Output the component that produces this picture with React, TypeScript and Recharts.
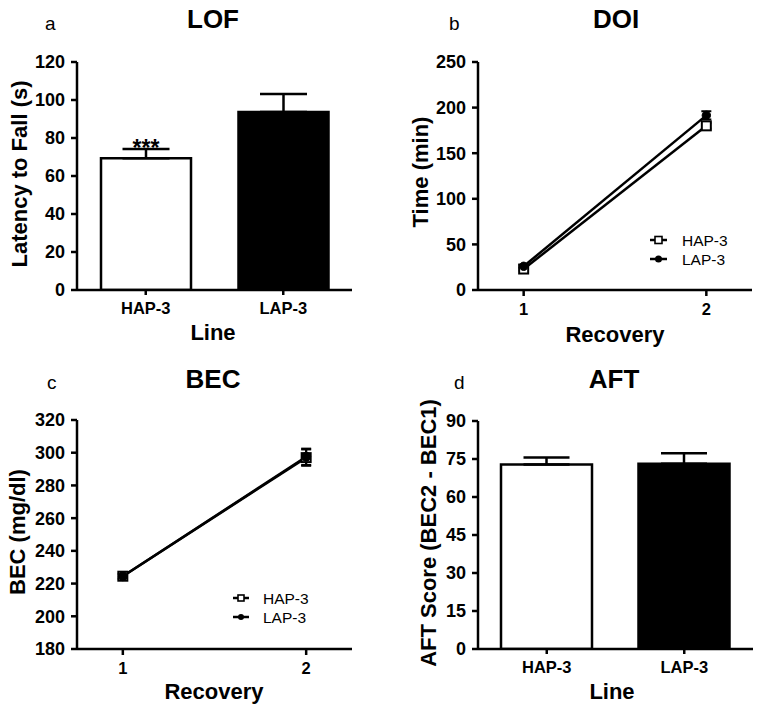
import React from 'react';
import {
  BarChart,
  Bar,
  Cell,
  XAxis,
  YAxis,
  ErrorBar,
  LabelList,
  LineChart,
  Line,
  Legend,
} from 'recharts';

// ---------- data ----------
const lineNames = ['HAP-3', 'LAP-3'];
const seriesNames = ['HAP-3', 'LAP-3'];

const lofMean = [69.3, 93.7];
const lofSem = [4.9, 9.5];
const lofSig = ['***', ''];
const lofTicks = [0, 20, 40, 60, 80, 100, 120];

const aftMean = [72.8, 73.1];
const aftSem = [2.8, 4.2];
const aftTicks = [0, 15, 30, 45, 60, 75, 90];

const recovery = [1, 2];

const doiHap = [23, 180];
const doiHapSem = [1.5, 3];
const doiLap = [26, 191.5];
const doiLapSem = [1.5, 4.5];
const doiTicks = [0, 50, 100, 150, 200, 250];

const becHap = [224.5, 297];
const becHapSem = [1.5, 5];
const becLap = [224.5, 297.5];
const becLapSem = [1.5, 5];
const becTicks = [180, 200, 220, 240, 260, 280, 300, 320];

// ---------- styling ----------
const FONT = '"Liberation Sans", Arial, Helvetica, sans-serif';
const AXIS_W = 2.5;
const barFills = ['#ffffff', '#000000'];

const yTickStyle = { fill: '#000', fontSize: 18, fontWeight: 'bold' as const, fontFamily: FONT };
const xTickStyle = { fill: '#000', fontSize: 16.5, fontWeight: 'bold' as const, fontFamily: FONT };
const axisLineStyle = { stroke: '#000', strokeWidth: AXIS_W };

const lofData = lineNames.map((name, i) => ({
  name,
  mean: lofMean[i],
  err: [0, lofSem[i]],
  sig: lofSig[i],
}));

const aftData = lineNames.map((name, i) => ({
  name,
  mean: aftMean[i],
  err: [0, aftSem[i]],
}));

const doiData = recovery.map((x, i) => ({
  x,
  hap: doiHap[i],
  hapErr: doiHapSem[i],
  lap: doiLap[i],
  lapErr: doiLapSem[i],
}));

const becData = recovery.map((x, i) => ({
  x,
  hap: becHap[i],
  hapErr: becHapSem[i],
  lap: becLap[i],
  lapErr: becLapSem[i],
}));

const W = 381;
const H = 356;

const renderSig = (props: any) => {
  const { x, y, width, value } = props;
  if (!value) return null;
  return (
    <text
      x={Number(x) + Number(width) / 2}
      y={Number(y) - 2}
      textAnchor="middle"
      fontSize={23}
      fontWeight="bold"
      fontFamily={FONT}
      fill="#000"
    >
      {value}
    </text>
  );
};

const squareDot = (size: number) => (props: any) => {
  const { cx, cy, index } = props;
  if (cx == null || cy == null) return <g key={`s${index}`} />;
  return (
    <rect
      key={`s${index}`}
      x={cx - size / 2}
      y={cy - size / 2}
      width={size}
      height={size}
      fill="#fff"
      stroke="#000"
      strokeWidth={2}
    />
  );
};

const circleDot = (r: number) => (props: any) => {
  const { cx, cy, index } = props;
  if (cx == null || cy == null) return <g key={`c${index}`} />;
  return <circle key={`c${index}`} cx={cx} cy={cy} r={r} fill="#000" stroke="#000" strokeWidth={1} />;
};

const LegendBox = ({ lineLen, textX, rowGap, sq }: { lineLen: number; textX: number; rowGap: number; sq: number }) => (
  <svg width={110} height={44} style={{ display: 'block', overflow: 'visible' }}>
    {seriesNames.map((n, i) => {
      const cy = 10 + rowGap * i;
      const mx = lineLen / 2;
      return (
        <g key={n}>
          <line x1={0} x2={lineLen} y1={cy} y2={cy} stroke="#000" strokeWidth={2.5} />
          {i === 0 ? (
            <rect x={mx - sq / 2} y={cy - sq / 2} width={sq} height={sq} fill="#fff" stroke="#000" strokeWidth={1.6} />
          ) : (
            <circle cx={mx} cy={cy} r={sq / 2} fill="#000" />
          )}
          <text x={textX} y={cy} dominantBaseline="central" fontSize={15.5} fontFamily={FONT} fill="#000">
            {n}
          </text>
        </g>
      );
    })}
  </svg>
);

const BarPanel = ({ data, ticks, left, top, bottom, right, barSize, capHalf }: any) => (
  <BarChart
    width={W}
    height={H}
    data={data}
    margin={{ top, right, bottom, left }}
    barCategoryGap={0}
  >
    <XAxis
      dataKey="name"
      height={30}
      axisLine={axisLineStyle}
      tickLine={{ stroke: '#000', strokeWidth: AXIS_W }}
      tickSize={5}
      tickMargin={7}
      tick={xTickStyle}
      interval={0}
    />
    <YAxis
      width={60}
      domain={[ticks[0], ticks[ticks.length - 1]]}
      ticks={ticks}
      interval={0}
      axisLine={axisLineStyle}
      tickLine={{ stroke: '#000', strokeWidth: AXIS_W }}
      tickSize={6}
      tickMargin={6}
      tick={yTickStyle}
      allowDataOverflow
    />
    <Bar dataKey="mean" barSize={barSize} stroke="#000" strokeWidth={2.5} isAnimationActive={false}>
      {data.map((_: any, i: number) => (
        <Cell key={i} fill={barFills[i]} />
      ))}
      <ErrorBar dataKey="err" width={capHalf} strokeWidth={2.5} stroke="#000" direction="y" />
      {data[0].sig !== undefined && <LabelList dataKey="sig" content={renderSig} />}
    </Bar>
  </BarChart>
);

const LinePanel = ({ data, ticks, left, top, bottom, right, legendPos, legendCfg, sq, r }: any) => (
  <LineChart width={W} height={H} data={data} margin={{ top, right, bottom, left }}>
    <XAxis
      dataKey="x"
      type="number"
      domain={[0.75, 2.25]}
      ticks={recovery}
      interval={0}
      height={30}
      axisLine={axisLineStyle}
      tickLine={{ stroke: '#000', strokeWidth: AXIS_W }}
      tickSize={6}
      tickMargin={7}
      tick={xTickStyle}
      allowDataOverflow
    />
    <YAxis
      width={60}
      domain={[ticks[0], ticks[ticks.length - 1]]}
      ticks={ticks}
      interval={0}
      axisLine={axisLineStyle}
      tickLine={{ stroke: '#000', strokeWidth: AXIS_W }}
      tickSize={6}
      tickMargin={6}
      tick={yTickStyle}
      allowDataOverflow
    />
    <Legend
      layout="vertical"
      align="center"
      verticalAlign="middle"
      content={() => <LegendBox {...legendCfg} />}
      wrapperStyle={{ left: legendPos[0], top: legendPos[1], width: 110, height: 44 }}
    />
    <Line
      dataKey="hap"
      name={seriesNames[0]}
      stroke="#000"
      strokeWidth={2.5}
      dot={squareDot(sq)}
      activeDot={false}
      isAnimationActive={false}
    >
      <ErrorBar dataKey="hapErr" width={5} strokeWidth={2} stroke="#000" direction="y" />
    </Line>
    <Line
      dataKey="lap"
      name={seriesNames[1]}
      stroke="#000"
      strokeWidth={2.5}
      dot={circleDot(r)}
      activeDot={false}
      isAnimationActive={false}
    >
      <ErrorBar dataKey="lapErr" width={5} strokeWidth={2} stroke="#000" direction="y" />
    </Line>
  </LineChart>
);

const txtBold = { fontFamily: FONT, fontWeight: 'bold' as const, fill: '#000' };
const txtNorm = { fontFamily: FONT, fill: '#000' };

export default function App() {
  return (
    <div
      style={{
        position: 'absolute',
        left: 0,
        top: 0,
        width: 762,
        height: 713,
        background: '#fff',
        overflow: 'hidden',
      }}
    >
      <div style={{ position: 'absolute', left: 0, top: 0 }}>
        <BarPanel data={lofData} ticks={lofTicks} left={17} right={29} top={62} bottom={36} barSize={90} capHalf={23.5} />
      </div>
      <div style={{ position: 'absolute', left: 381, top: 0 }}>
        <LinePanel
          data={doiData}
          ticks={doiTicks}
          left={37}
          right={10}
          top={62}
          bottom={36}
          sq={9}
          r={4.2}
          legendPos={[269, 230]}
          legendCfg={{ lineLen: 17, textX: 32, rowGap: 19, sq: 7 }}
        />
      </div>
      <div style={{ position: 'absolute', left: 0, top: 356 }}>
        <LinePanel
          data={becData}
          ticks={becTicks}
          left={17}
          right={29}
          top={64}
          bottom={33}
          sq={9}
          r={4.5}
          legendPos={[233, 232]}
          legendCfg={{ lineLen: 16, textX: 30, rowGap: 19, sq: 6 }}
        />
      </div>
      <div style={{ position: 'absolute', left: 381, top: 356 }}>
        <BarPanel data={aftData} ticks={aftTicks} left={37} right={9} top={65} bottom={33} barSize={91} capHalf={23} />
      </div>

      <svg
        width={762}
        height={713}
        style={{ position: 'absolute', left: 0, top: 0, pointerEvents: 'none' }}
      >
        {/* panel a */}
        <text x={45} y={30} fontSize={19} {...txtNorm}>a</text>
        <text x={213} y={28} fontSize={26} textAnchor="middle" {...txtBold}>LOF</text>
        <text x={27} y={174} fontSize={22} textAnchor="middle" transform="rotate(-90 27 174)" {...txtBold}>
          Latency to Fall (s)
        </text>
        <text x={213} y={340} fontSize={22} textAnchor="middle" {...txtBold}>Line</text>

        {/* panel b */}
        <text x={449} y={30} fontSize={19} {...txtNorm}>b</text>
        <text x={616} y={28} fontSize={26} textAnchor="middle" {...txtBold}>DOI</text>
        <text x={428} y={172} fontSize={22} textAnchor="middle" transform="rotate(-90 428 172)" {...txtBold}>
          Time (min)
        </text>
        <text x={615} y={342} fontSize={22} textAnchor="middle" {...txtBold}>Recovery</text>

        {/* panel c */}
        <text x={47} y={389} fontSize={19} {...txtNorm}>c</text>
        <text x={213} y={388} fontSize={26} textAnchor="middle" {...txtBold}>BEC</text>
        <text x={25} y={532} fontSize={22} textAnchor="middle" transform="rotate(-90 25 532)" {...txtBold}>
          BEC (mg/dl)
        </text>
        <text x={214} y={699} fontSize={22} textAnchor="middle" {...txtBold}>Recovery</text>

        {/* panel d */}
        <text x={454} y={389} fontSize={19} {...txtNorm}>d</text>
        <text x={614} y={388} fontSize={26} textAnchor="middle" {...txtBold}>AFT</text>
        <text x={436} y={533} fontSize={22} textAnchor="middle" transform="rotate(-90 436 533)" {...txtBold}>
          AFT Score (BEC2 - BEC1)
        </text>
        <text x={612} y={699} fontSize={22} textAnchor="middle" {...txtBold}>Line</text>
      </svg>
    </div>
  );
}
